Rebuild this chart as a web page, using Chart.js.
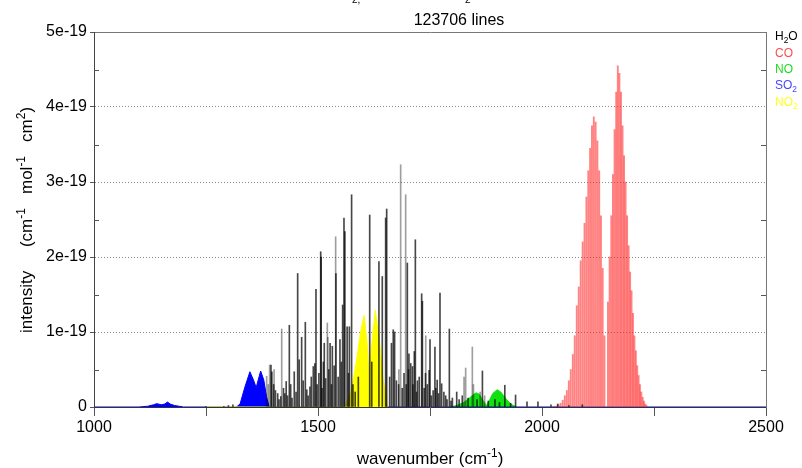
<!DOCTYPE html>
<html><head><meta charset="utf-8">
<script src="https://cdn.jsdelivr.net/npm/chart.js@4/dist/chart.umd.min.js"></script>
<style>html,body{margin:0;padding:0;background:#fff}#wrap{width:802px;height:468px;position:relative}</style>
</head><body><div id="wrap"><canvas id="c" width="802" height="468"></canvas></div>
<script>
// ---------- data (intensities in units of 1e-19 cm^-1/(mol cm^-2)) ----------
const xTickLabels = ['1000', '1500', '2000', '2500'];
const yTickLabels = ['0', '1e-19', '2e-19', '3e-19', '4e-19', '5e-19'];
const titleText = '123706 lines';

// CO fundamental band lines (P and R branches)
const coWn = [2027.5,2032.2,2037.0,2041.6,2046.3,2050.9,2055.4,2059.8,2064.2,2068.8,
  2073.1,2077.6,2082.0,2086.3,2090.7,2094.9,2099.1,2103.3,2107.4,2111.5,
  2115.6,2119.7,2123.7,2127.7,2131.6,2135.5,2139.4,
  2147.1,2150.9,2154.6,2158.3,2162.0,2165.6,2169.2,2172.8,2176.3,2179.8,
  2183.2,2186.6,2190.0,2193.4,2196.7,2199.9,2203.1,2206.3,2209.5,2212.6,
  2215.7,2218.7,2221.7,2224.7,2227.6,2230.5,2233.4];
const coInt = [0.01,0.01,0.03,0.05,0.09,0.15,0.22,0.35,0.50,0.70,
  0.95,1.35,1.60,1.95,2.20,2.45,2.80,3.15,3.45,3.75,
  3.87,3.80,3.55,3.15,2.55,1.85,0.95,
  1.40,2.00,2.55,3.10,3.70,4.20,4.55,4.45,4.20,3.75,
  3.35,3.00,2.55,2.15,1.80,1.55,1.25,0.95,0.75,0.55,
  0.42,0.30,0.20,0.13,0.08,0.04,0.02];

// H2O lines (dark, strong overlap)
const h2oWn = [1250,1290,1300,1310,1395,1397,1401,1405,1410,1413,1417,1423,1426,1429,1432,1436,1439,1442,1447,1451,
  1454.6,1458,1463.5,1467,1471.7,1475,1478,1482,1485,1489.5,1493,1495.5,1498,1502,1506,1507,1509,1512,1514,1517,
  1524,1527,1530,1532,1536,1540,1545,1549,1552,1555,1558,1560,1565,1568,1570,1575,1578,1583,1590,1615.4,
  1620,1636,1643.5,1651,1653.3,1660,1664,1668,1671,1675,1680,1688,1692,1697,1699.4,1702,1703,1707,1711,1712,
  1715,1717.3,1720,1722,1726,1731.4,1733,1737,1740,1744,1748,1750,1753,1757,1761,1763,1766,1769,1772.3,1776,
  1781,1785,1788,1793.2,1797,1800,1809.6,1815,1822,1835,1855,1867,1880,1895,1905,1917,1930,1941,1966.5,1991,
  2020,2035,2060,2090];
const h2oInt = [0.01,0.01,0.02,0.03,0.56,0.47,0.30,0.22,0.18,0.10,0.14,0.25,0.18,0.34,0.15,1.09,0.30,0.12,0.47,0.20,
  1.78,0.63,0.93,0.35,1.13,0.23,0.15,0.27,0.40,0.54,0.58,1.57,0.30,0.45,2.07,2.00,0.25,0.60,0.85,0.38,
  0.50,0.85,0.30,0.81,0.55,1.78,0.40,0.90,0.60,1.36,2.52,2.34,1.07,0.45,1.07,2.83,0.30,0.20,0.40,2.56,
  0.60,1.94,1.74,2.52,2.64,0.40,0.85,1.03,1.00,0.35,0.30,0.25,0.45,0.30,1.92,0.50,0.71,0.58,0.54,0.30,
  0.74,2.23,0.20,0.35,0.40,1.51,1.41,0.25,0.45,0.30,0.49,0.90,0.15,0.22,0.80,0.25,0.36,0.18,1.52,0.31,
  0.20,0.15,0.10,1.04,0.08,0.12,0.20,0.10,0.15,0.12,0.10,0.48,0.08,0.10,0.06,0.29,0.05,0.16,0.07,0.07,
  0.03,0.04,0.02,0.03];

// H2O lines (light, isolated)
const h2oWeakWn = [1385.4,1389,1392,1402,1419,1520.8,1522,1539.4,1680.5,1684.5,1695.7,1740.5,1826,1829.6,1844.5,1847,1862,1872];
const h2oWeakInt = [0.41,0.30,0.56,0.50,1.04,1.12,0.93,2.27,0.50,3.23,2.83,0.95,0.40,0.52,0.80,0.30,0.20,0.15];

// dense bands (envelopes)
const no2Wn = [1250,1555,1561,1574,1585.5,1595,1603,1610,1614,1619,1628,1638,1645,1655];
const no2Int = [0,0,0.01,0.20,0.60,1.00,1.22,0.83,0.35,0.78,1.29,0.83,0.38,0];
const so2Wn = [1000,1100,1120,1133,1140,1150,1158,1164,1170,1180,1190,1200,1318,1326,1337,1348,1356,1362,1372,1379,1385,1391,2500];
const so2Int = [0,0,0.01,0.03,0.045,0.03,0.04,0.066,0.04,0.02,0.01,0,0,0.04,0.27,0.47,0.36,0.26,0.48,0.36,0.14,0,0];
const noWn = [1795,1810,1825,1838,1848,1853,1860,1868,1876,1882,1890,1900,1908,1918,1930,1943];
const noInt = [0,0.02,0.06,0.12,0.17,0.19,0.17,0.09,0.02,0.08,0.18,0.23,0.20,0.12,0.04,0];

// ---------- helpers ----------
const FONT = '"Liberation Sans", Arial, Helvetica, sans-serif';
const pts = (xs, ys) => xs.map((x, i) => ({x: x, y: ys[i]}));

function richWidth(ctx, parts, size) {
  let w = 0;
  for (const p of parts) { ctx.font = (p.s ? size * 0.7 : size) + 'px ' + FONT; w += ctx.measureText(p.t).width; }
  return w;
}
function drawRich(ctx, parts, x, y, size, color, align) {
  const w = richWidth(ctx, parts, size);
  let cx = align === 'center' ? x - w / 2 : x;
  ctx.fillStyle = color; ctx.textAlign = 'left'; ctx.textBaseline = 'alphabetic';
  for (const p of parts) {
    ctx.font = (p.s ? size * 0.7 : size) + 'px ' + FONT;
    const dy = p.s === 'sup' ? -size * 0.42 : (p.s === 'sub' ? size * 0.28 : 0);
    ctx.fillText(p.t, cx, y + dy);
    cx += ctx.measureText(p.t).width;
  }
}

const legendItems = [
  {parts: [{t: 'H'}, {t: '2', s: 'sub'}, {t: 'O'}], color: '#000000', y: 40},
  {parts: [{t: 'CO'}], color: '#ff4d4d', y: 57},
  {parts: [{t: 'NO'}], color: '#22dd22', y: 73},
  {parts: [{t: 'SO'}, {t: '2', s: 'sub'}], color: '#4646ff', y: 89},
  {parts: [{t: 'NO'}, {t: '2', s: 'sub'}], color: '#ffff22', y: 106}
];

const decor = {
  id: 'decor',
  afterDraw(chart) {
    const ctx = chart.ctx, a = chart.chartArea;
    const ys = chart.scales.y;
    ctx.save();
    // inner minor ticks
    ctx.strokeStyle = '#555'; ctx.lineWidth = 1;
    for (let v = 0.5; v < 5; v += 1) {
      const py = Math.round(ys.getPixelForValue(v)) + 0.5;
      ctx.beginPath(); ctx.moveTo(a.left, py); ctx.lineTo(a.left + 5, py); ctx.stroke();
      ctx.beginPath(); ctx.moveTo(a.right, py); ctx.lineTo(a.right - 5, py); ctx.stroke();
    }
    // title
    ctx.fillStyle = '#000'; ctx.font = '16px ' + FONT; ctx.textAlign = 'center'; ctx.textBaseline = 'alphabetic';
    ctx.fillText(titleText, 459, 25);
    // cut-off line above
    ctx.font = '10px ' + FONT; ctx.textAlign = 'left';
    ctx.fillText('2,', 352, 3);
    ctx.fillText('2', 465, 3);
    // legend
    for (const it of legendItems) drawRich(ctx, it.parts, 775, it.y, 12, it.color, 'left');
    // x label
    drawRich(ctx, [{t: 'wavenumber (cm'}, {t: '-1', s: 'sup'}, {t: ')'}], 430, 464, 17, '#000', 'center');
    // y label
    ctx.translate(32, 220); ctx.rotate(-Math.PI / 2);
    drawRich(ctx, [{t: 'intensity     (cm'}, {t: '-1', s: 'sup'}, {t: '   mol'}, {t: '-1', s: 'sup'}, {t: '   cm'}, {t: '2', s: 'sup'}, {t: ')'}], 0, 0, 17, '#000', 'center');
    ctx.restore();
  }
};

const bandLine = (data, color) => ({
  type: 'line', data: data, fill: 'origin', backgroundColor: color, borderColor: color,
  borderWidth: 1, pointRadius: 0, tension: 0, order: 3
});

new Chart(document.getElementById('c'), {
  type: 'bar',
  data: {
    datasets: [
      {type: 'bar', data: pts(h2oWn, h2oInt), backgroundColor: 'rgba(0,0,0,0.72)', barThickness: 1, grouped: false, order: 0},
      {type: 'bar', data: pts(h2oWeakWn, h2oWeakInt), backgroundColor: 'rgba(0,0,0,0.38)', barThickness: 1, grouped: false, order: 0},
      {type: 'bar', data: pts(coWn, coInt), backgroundColor: 'rgba(255,30,30,0.55)', barThickness: 1.2, grouped: false, order: 1},
      bandLine(pts(no2Wn, no2Int), '#ffff00'),
      bandLine(pts(so2Wn, so2Int), '#0000ff'),
      bandLine(pts(noWn, noInt), '#11e011')
    ]
  },
  options: {
    responsive: false, animation: false, devicePixelRatio: 1,
    layout: {padding: {top: 32, left: 0, right: 0, bottom: 0}},
    plugins: {legend: {display: false}, tooltip: {enabled: false}},
    scales: {
      x: {
        type: 'linear', position: 'bottom', min: 1000, max: 2500, offset: false,
        afterFit: s => { s.height = 61; },
        ticks: {stepSize: 250, autoSkip: false, maxRotation: 0, color: '#000', padding: 2,
          font: {family: FONT, size: 16},
          callback: v => (v % 500 === 0 ? xTickLabels[(v - 1000) / 500] : '')},
        grid: {drawOnChartArea: false, offset: false, tickLength: 9, tickColor: '#555'},
        border: {color: '#333'}
      },
      xT: {
        type: 'linear', position: 'top', min: 1000, max: 2500, offset: false,
        afterFit: s => { s.height = 0; },
        ticks: {display: false}, grid: {display: false},
        border: {color: '#777'}
      },
      y: {
        min: 0, max: 5, position: 'left',
        afterFit: s => { s.width = 94; },
        ticks: {stepSize: 0.5, autoSkip: false, color: '#000', padding: 3, font: {family: FONT, size: 16},
          callback: v => (Number.isInteger(v) ? yTickLabels[v] : '')},
        grid: {
          color: c => (Number.isInteger(c.tick.value) && c.tick.value > 0) ? '#8a8a8a' : 'rgba(0,0,0,0)',
          tickColor: c => Number.isInteger(c.tick.value) ? '#555' : 'rgba(0,0,0,0)',
          tickLength: 4
        },
        border: {color: '#444', dash: [1, 2]}
      },
      yR: {
        min: 0, max: 5, position: 'right',
        afterFit: s => { s.width = 36; },
        ticks: {display: false}, grid: {display: false},
        border: {color: '#777'}
      }
    }
  },
  plugins: [decor]
});
</script>
</body></html>
